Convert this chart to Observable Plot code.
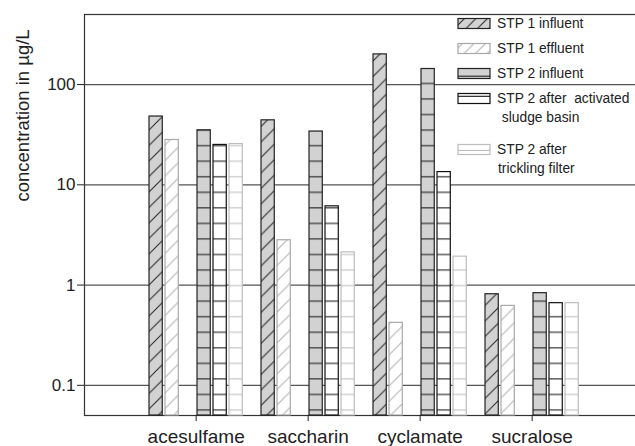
<!DOCTYPE html>
<html><head><meta charset="utf-8">
<script src="https://cdn.jsdelivr.net/npm/d3@7"></script>
<script src="https://cdn.jsdelivr.net/npm/@observablehq/plot@0.6"></script>
<style>
body{margin:0;background:#fff;}
#chart{position:relative;width:635px;height:446px;}
</style></head><body><div id="chart"></div>
<script>
// ---- data ----
const categories = ["acesulfame", "saccharin", "cyclamate", "sucralose"];
const series = ["STP 1 influent", "STP 1 effluent", "STP 2 influent", "STP 2 after activated sludge basin", "STP 2 after trickling filter"];
const stp1Influent  = [48, 44, 200, 0.81];
const stp1Effluent  = [28, 2.8, 0.42, 0.62];
const stp2Influent  = [35, 34, 143, 0.83];
const stp2Activated = [25, 6.1, 13.4, 0.66];
const stp2Trickling = [25.5, 2.12, 1.92, 0.66];
const yTicks = [0.1, 1, 10, 100];
const yDomain = [0.05, 500];
const yLabel = "concentration in \u00b5g/L";
const legendLabels = [["STP 1 influent"], ["STP 1 effluent"], ["STP 2 influent"], ["STP 2 after  activated", " sludge basin"], ["STP 2 after", "trickling filter"]];

const seriesValues = [stp1Influent, stp1Effluent, stp2Influent, stp2Activated, stp2Trickling];
// slots within each category group: two STP1 bars, a gap, three STP2 bars, a gap
const slots = [series[0], series[1], "gap", series[2], series[3], series[4], "pad"];
const xDomain = categories.flatMap(c => slots.map(s => c + "|" + s));
const rows = [];
categories.forEach((c, ci) => series.forEach((s, si) => rows.push({category: c, series: s, key: c + "|" + s, value: seriesValues[si][ci]})));

// ---- styles ----
const GRAY = "#d2d2d2";
const strokes = ["#222", "#a8a8a8", "#222", "#111", "#bdbdbd"];

const bars = series.map((s, i) => Plot.barY(rows.filter(d => d.series === s), {
  x: "key", y1: yDomain[0], y2: "value",
  fill: `url(#pat${i})`, stroke: strokes[i], strokeWidth: 1.2
}));

const svg = Plot.plot({
  width: 635, height: 446,
  marginLeft: 84, marginRight: -2, marginTop: 14, marginBottom: 31,
  style: {fontFamily: "'Liberation Sans', Arial, Helvetica, sans-serif", fontSize: "17px", background: "#fff", color: "#222"},
  x: {type: "band", domain: xDomain, range: [84, 635], paddingInner: 0.17, paddingOuter: 3.30375, align: 0.61484, round: false, axis: null},
  y: {type: "log", domain: yDomain, axis: null},
  marks: [
    Plot.ruleY(yTicks, {stroke: "#555", strokeWidth: 1.2}),
    Plot.frame({stroke: "#333", strokeWidth: 1.2}),
    ...bars,
    Plot.axisY({ticks: yTicks, tickFormat: d => String(d), tickSize: 7, tickPadding: 2, fontSize: 17, label: null}),
    Plot.axisX({ticks: categories.map(c => c + "|gap"), tickFormat: k => k.split("|")[0], tickSize: 6, tickPadding: 8, fontSize: 19, dx: 8, label: null}),
    Plot.text([yLabel], {text: d => d, frameAnchor: "left", rotate: -90, dx: -61, dy: -13.5, fontSize: 18.5})
  ]
});

// ---- hatch patterns ----
const sel = d3.select(svg);
const defs = sel.insert("defs", ":first-child");
function diag(id, bg, fg, P) {
  const p = defs.append("pattern").attr("id", id).attr("patternUnits", "userSpaceOnUse").attr("width", P).attr("height", P);
  p.append("rect").attr("width", P).attr("height", P).attr("fill", bg);
  p.append("path").attr("d", `M0,${P} L${P},0 M-2,2 L2,-2 M${P-2},${P+2} L${P+2},${P-2}`).attr("stroke", fg).attr("stroke-width", 1);
}
function horiz(id, bg, fg, P, off) {
  const p = defs.append("pattern").attr("id", id).attr("patternUnits", "userSpaceOnUse").attr("width", 10).attr("height", P);
  p.append("rect").attr("width", 10).attr("height", P).attr("fill", bg);
  p.append("line").attr("x1", 0).attr("x2", 10).attr("y1", off).attr("y2", off).attr("stroke", fg).attr("stroke-width", 1.1);
}
diag("pat0", GRAY, "#222", 15.5);
diag("pat1", "#fff", "#b0b0b0", 15.5);
horiz("pat2", GRAY, "#222", 15.55, 5.7);
horiz("pat3", "#fff", "#222", 15.55, 5.7);
horiz("pat4", "#fff", "#c0c0c0", 15.55, 5.7);
diag("lpat0", GRAY, "#222", 11.5);
diag("lpat1", "#fff", "#b0b0b0", 11.5);

// ---- legend (inside plot, top right) ----
const legendTops = [18.5, 43.5, 68.5, 93.5, 144.5];
const swatchFill = ["url(#lpat0)", "url(#lpat1)", GRAY, "#fff", "#fff"];
const swatchLine = [null, null, 7.7, 2.8, 6];
const lg = sel.append("g").attr("font-size", 13.8).attr("fill", "#222").attr("text-anchor", "start");
legendLabels.forEach((lines, i) => {
  const t = legendTops[i];
  lg.append("rect").attr("x", 458).attr("y", t).attr("width", 32).attr("height", 10)
    .attr("fill", swatchFill[i]).attr("stroke", strokes[i]).attr("stroke-width", 1.2);
  if (swatchLine[i] != null) {
    lg.append("line").attr("x1", 458).attr("x2", 490).attr("y1", t + swatchLine[i]).attr("y2", t + swatchLine[i])
      .attr("stroke", strokes[i]).attr("stroke-width", 1.1);
  }
  lines.forEach((ln, j) => {
    lg.append("text").attr("x", j === 0 ? 497 : 498).attr("y", t + 9.5 + j * 19)
      .attr("text-anchor", "start").style("white-space", "pre").text(ln);
  });
});

document.getElementById("chart").appendChild(svg);
</script></body></html>
